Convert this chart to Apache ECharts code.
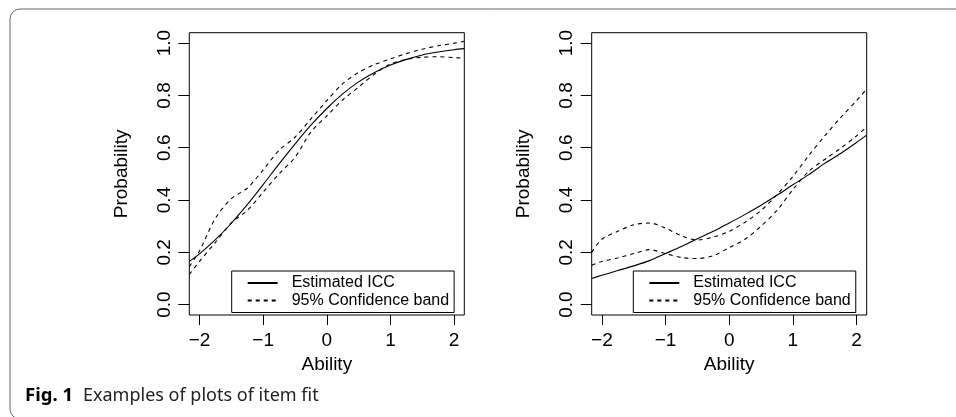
<!DOCTYPE html>
<html>
<head>
<meta charset="utf-8">
<script src="https://cdn.jsdelivr.net/npm/echarts@6/dist/echarts.min.js"></script>
<style>
  html, body { margin: 0; padding: 0; background: #fff; }
  #chart { width: 956px; height: 417px; }
</style>
</head>
<body>
<div id="chart"></div>
<script>
// ability grid shared by all curves
const ability = [-2.16, -2, -1.75, -1.5, -1.25, -1, -0.75, -0.5, -0.25, 0, 0.25, 0.5, 0.75, 1, 1.25, 1.5, 1.75, 2, 2.16]

// left panel
const iccLeft = [0.165, 0.194, 0.248, 0.311, 0.382, 0.459, 0.538, 0.614, 0.686, 0.750, 0.806, 0.852, 0.888, 0.916, 0.938, 0.955, 0.966, 0.975, 0.979]
const bandLeftUpper = [0.145, 0.205, 0.33, 0.405, 0.445, 0.515, 0.59, 0.64, 0.71, 0.78, 0.845, 0.888, 0.918, 0.94, 0.96, 0.977, 0.99, 1.0, 1.007]
const bandLeftLower = [0.115, 0.165, 0.238, 0.312, 0.36, 0.43, 0.50, 0.563, 0.66, 0.722, 0.783, 0.832, 0.882, 0.92, 0.938, 0.946, 0.948, 0.945, 0.942]

// right panel
const iccRight = [0.10, 0.112, 0.13, 0.148, 0.168, 0.195, 0.222, 0.252, 0.28, 0.312, 0.345, 0.38, 0.418, 0.458, 0.497, 0.54, 0.578, 0.62, 0.648]
const bandRightA = [0.20, 0.25, 0.28, 0.305, 0.312, 0.292, 0.263, 0.247, 0.258, 0.28, 0.315, 0.36, 0.42, 0.49, 0.57, 0.645, 0.715, 0.78, 0.825]
const bandRightB = [0.15, 0.165, 0.178, 0.195, 0.21, 0.195, 0.18, 0.176, 0.187, 0.218, 0.25, 0.30, 0.36, 0.44, 0.51, 0.555, 0.598, 0.645, 0.68]

const xTicks = [-2, -1, 0, 1, 2]
const yTicks = [0, 0.2, 0.4, 0.6, 0.8, 1.0]

const FONT = 'Liberation Sans'
const ICC = 'Estimated ICC'
const BAND = '95% Confidence band'

const chart = echarts.init(document.getElementById('chart'))

const pairs = (ys) => ability.map((x, i) => [x, ys[i]])

const makeX = (gi) => ({
  gridIndex: gi,
  type: 'value',
  min: -2.16,
  max: 2.16,
  name: 'Ability',
  nameLocation: 'middle',
  nameGap: 39,
  nameTextStyle: { fontFamily: FONT, fontSize: 19, color: '#000' },
  axisLine: { show: false, onZero: false },
  axisTick: { show: true, length: 10, lineStyle: { color: '#000', width: 1 }, customValues: xTicks },
  axisLabel: {
    color: '#000', fontFamily: FONT, fontSize: 19, margin: 16,
    customValues: xTicks,
    formatter: (v) => (v < 0 ? '\u2212' + Math.abs(v) : String(v)),
  },
  splitLine: { show: false },
})

const makeY = (gi) => ({
  gridIndex: gi,
  type: 'value',
  min: -0.04,
  max: 1.04,
  name: 'Probability',
  nameLocation: 'middle',
  nameGap: 58,
  nameRotate: 90,
  nameTextStyle: { fontFamily: FONT, fontSize: 19, color: '#000' },
  axisLine: { show: false, onZero: false },
  axisTick: { show: true, length: 11, lineStyle: { color: '#000', width: 1 }, customValues: yTicks },
  axisLabel: {
    color: '#000', fontFamily: FONT, fontSize: 19, margin: 15, rotate: 90,
    customValues: yTicks,
    formatter: (v) => v.toFixed(1),
  },
  splitLine: { show: false },
})

const lineSeries = (name, gi, ys, dashed) => ({
  name: name,
  type: 'line',
  xAxisIndex: gi,
  yAxisIndex: gi,
  data: pairs(ys),
  smooth: 0.3,
  symbol: 'none',
  lineStyle: { color: '#000', width: 1.1, type: dashed ? [4, 4] : 'solid' },
  itemStyle: { color: '#000' },
  emphasis: { disabled: true },
})

const makeLegend = (left) => ({
  left: left,
  top: 271,
  orient: 'vertical',
  data: [ICC, BAND],
  backgroundColor: '#fff',
  borderColor: '#000',
  borderWidth: 1,
  borderRadius: 0,
  padding: [4, 5, 4, 15],
  itemWidth: 30,
  itemHeight: 16,
  itemGap: 1.5,
  selectedMode: false,
  itemStyle: { color: 'transparent', borderWidth: 0, opacity: 0 },
  textStyle: { fontFamily: FONT, fontSize: 16, color: '#000', padding: [0, 0, 0, 9] },
})

const option = {
  backgroundColor: '#fff',
  animation: false,
  graphic: [
    {
      type: 'rect',
      shape: { x: 10, y: 9, width: 1000, height: 410, r: 10 },
      style: { fill: 'none', stroke: '#666', lineWidth: 1 },
      silent: true,
    },
  ],
  title: {
    left: 25,
    top: 386,
    padding: 0,
    text: '{b|Fig. 1}  {n|Examples of plots of item fit}',
    textStyle: {
      rich: {
        b: { fontFamily: 'Noto Sans', fontWeight: 'bold', fontSize: 18.5, color: '#000' },
        n: { fontFamily: 'Noto Sans', fontWeight: 'normal', fontSize: 18, color: '#222' },
      },
    },
  },
  grid: [
    { left: 189.3, top: 32.7, width: 275, height: 282.3, show: true, borderColor: '#000', borderWidth: 1, backgroundColor: 'transparent' },
    { left: 591.7, top: 32.7, width: 275, height: 282.3, show: true, borderColor: '#000', borderWidth: 1, backgroundColor: 'transparent' },
  ],
  xAxis: [makeX(0), makeX(1)],
  yAxis: [makeY(0), makeY(1)],
  legend: [makeLegend(231.7), makeLegend(633.3)],
  series: [
    lineSeries(ICC, 0, iccLeft, false),
    lineSeries(BAND, 0, bandLeftUpper, true),
    lineSeries(BAND, 0, bandLeftLower, true),
    lineSeries(ICC, 1, iccRight, false),
    lineSeries(BAND, 1, bandRightA, true),
    lineSeries(BAND, 1, bandRightB, true),
  ],
}

chart.setOption(option)
</script>
</body>
</html>
